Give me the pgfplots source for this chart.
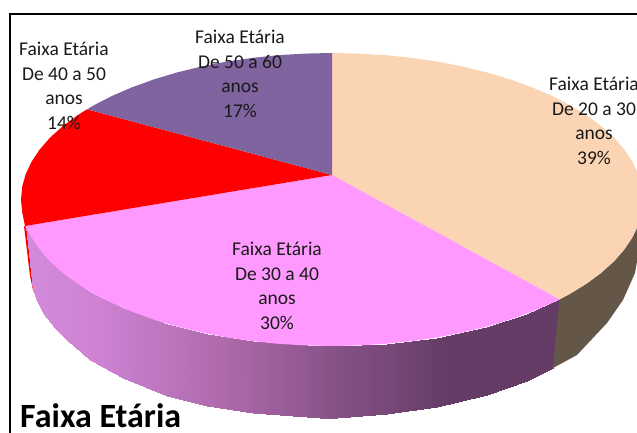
\documentclass[border=0pt]{standalone}
\usepackage{pgfplots}
\pgfplotsset{compat=1.18}
\usepackage{fontspec}
\setmainfont{Carlito}
\definecolor{tanTop}{RGB}{251,212,180}
\definecolor{pinkTop}{RGB}{255,153,255}
\definecolor{purpleTop}{RGB}{128,100,160}
\definecolor{tanSide}{RGB}{100,87,72}
\begin{document}
\begin{tikzpicture}
\useasboundingbox (0,0) rectangle (637pt,433pt);
\clip (0,0) rectangle (637pt,433pt);
\begin{axis}[
  at={(0,0)}, anchor=south west,
  scale only axis, width=637pt, height=433pt,
  xmin=0, xmax=637, ymin=0, ymax=433, y dir=reverse,
  hide axis,
  colormap={sidefade}{rgb255(0.26cm)=(212,138,218); rgb255(1cm)=(205,130,210); rgb255(2.3cm)=(172,105,170); rgb255(3.2cm)=(140,85,140); rgb255(4.45cm)=(101,60,102); rgb255(5.53cm)=(101,60,102)},
  point meta min=26, point meta max=553,
]
% frame
\addplot[black, line width=2pt, forget plot] coordinates {(10,433) (10,14) (637,14)};
% red sliver of the side
\addplot[fill=red, draw=none, forget plot] coordinates {(24,226) (27,226) (34,290) (33,290) (30,276) (24,226)};
% pink side with its shading
\addplot[surf, shader=interp, mesh/rows=17, mesh/cols=2, point meta=\thisrow{m}, forget plot] table[x=x, y=y] {
x y m
26 226 26
33 290 26
33 240 33
38 303 33
43 254 43
43 313 43
55 266 55
55 328 55
67 276 67
67 340 67
90 291.5 90
90 360 90
123 308 123
123 378 123
167 324 167
167 396 167
207 334 207
207 406 207
253 341 253
253 413 253
320 346 320
320 418 320
337 346 337
337 418 337
387 344 387
387 414 387
437 337.5 437
437 406.5 437
487 326.5 487
487 395 487
527 313.6 527
527 381 527
559.5 299.4 553
553 368 553
};
% tan side
\addplot[fill=tanSide, draw=none, forget plot] coordinates {(559.5,299.4) (570.2,293.7) (586.8,283.5) (601.3,272.75) (613.9,261.4) (624.2,249.6) (632.4,237.4) (638.3,224.9) (643,228) (639,250) (635,273) (623,300) (607,323) (577,355) (553,368) (559.5,299.4)};
% top faces
\addplot[fill=tanTop, draw=none, forget plot] coordinates {(332,175) (332,53) (359.1,53.6) (386,55.2) (412.5,58) (438.4,61.8) (463.4,66.7) (487.5,72.6) (510.4,79.5) (531.9,87.3) (551.9,95.9) (570.2,105.3) (586.8,115.5) (601.3,126.25) (613.9,137.6) (624.2,149.4) (632.4,161.6) (638.3,174.1) (641.8,186.7) (643,199.5) (641.8,212.3) (638.3,224.9) (632.4,237.4) (624.2,249.6) (613.9,261.4) (601.3,272.75) (586.8,283.5) (570.2,293.7) (559.5,299.4) (332,175)};
\addplot[fill=pinkTop, draw=none, forget plot] coordinates {(332,175) (559.5,299.4) (551.9,303.1) (531.9,311.7) (510.4,319.5) (487.5,326.4) (463.4,332.3) (438.4,337.2) (412.5,341) (386,343.8) (359.1,345.4) (332,346) (304.9,345.4) (278,343.8) (251.5,341) (225.6,337.2) (200.6,332.3) (176.5,326.4) (153.6,319.5) (132.1,311.7) (112.1,303.1) (93.8,293.7) (77.2,283.5) (62.7,272.75) (50.1,261.4) (39.8,249.6) (31.6,237.4) (25,226) (332,175)};
\addplot[fill=red, draw=none, forget plot] coordinates {(332,175) (25,226) (22.2,212.3) (21,199.5) (22.2,186.7) (25.7,174.1) (31.6,161.6) (39.8,149.4) (50.1,137.6) (62.7,126.25) (77.2,115.5) (87,109.3) (332,175)};
\addplot[fill=purpleTop, draw=none, forget plot] coordinates {(332,175) (87,109.3) (93.8,105.3) (112.1,95.9) (132.1,87.3) (153.6,79.5) (176.5,72.6) (200.6,66.7) (225.6,61.8) (251.5,58) (278,55.2) (304.9,53.6) (332,53) (332,175)};
% labels
\node[align=center, font=\fontsize{19.5}{24.7}\selectfont, text=black!90] at (axis cs:594,121) {Faixa Etária\\De 20 a 30\\anos\\39\%};
\node[align=center, font=\fontsize{19.5}{24.7}\selectfont, text=black!90] at (axis cs:277,286) {Faixa Etária\\De 30 a 40\\anos\\30\%};
\node[align=center, font=\fontsize{19.5}{24.7}\selectfont, text=black!90] at (axis cs:64,86) {Faixa Etária\\De 40 a 50\\anos\\14\%};
\node[align=center, font=\fontsize{19.5}{24.7}\selectfont, text=black!90] at (axis cs:240,74) {Faixa Etária\\De 50 a 60\\anos\\17\%};
\node[anchor=base west, inner sep=0pt, font=\fontsize{34}{36}\selectfont\bfseries] at (axis cs:20,427) {Faixa Etária};
\end{axis}
\end{tikzpicture}
\end{document}
